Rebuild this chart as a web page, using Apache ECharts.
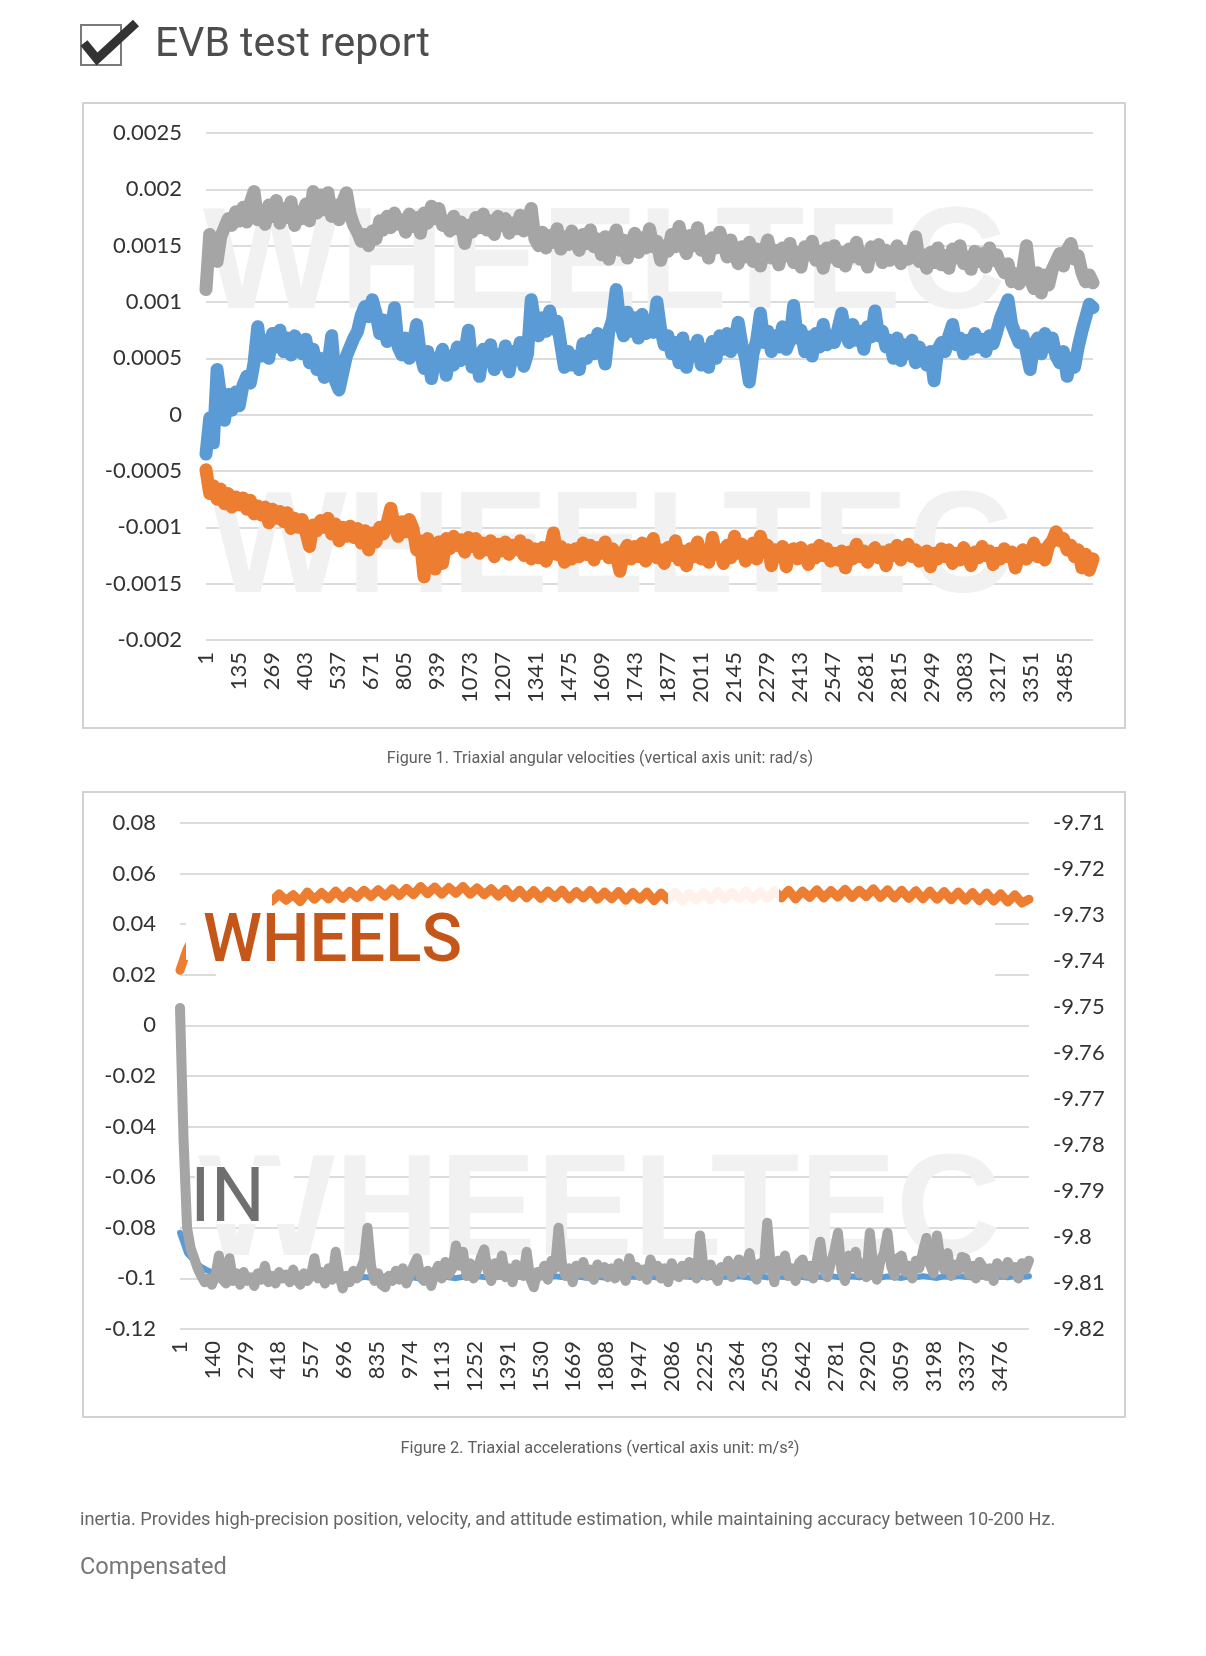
<!DOCTYPE html>
<html><head><meta charset="utf-8">
<script src="https://cdn.jsdelivr.net/npm/echarts@6/dist/echarts.min.js"></script>
<style>html,body{margin:0;padding:0;background:#fff;}#c{width:1206px;height:1656px;}</style>
</head><body><div id="c"></div>
<script>
// ---------- data ----------
const N_POINTS = 3601;            // samples per test run
const STEP_FINE = 15;             // sample spacing of the fine read-offs
const STEP_COARSE = 30;           // sample spacing of the coarse read-offs
const categories = Array.from({length: N_POINTS}, (_, i) => String(i + 1));
const fig1LabelInterval = 133;    // ticks 1,135,269,...,3485
const fig2LabelInterval = 138;    // ticks 1,140,279,...,3476

// Figure 1: angular velocity (rad/s), read every 15 samples
const gyroBlue = [
-0.00035,-0.00003,-0.00025,0.0004,0.00015,-0.00005,0.00018,0.00004,0.0002,0.00008,
0.00026,0.00034,0.00028,0.00046,0.00078,0.00052,0.00066,0.0005,0.00072,0.0006,
0.00075,0.00056,0.00068,0.00053,0.0007,0.00062,0.00054,0.00067,0.00046,0.00058,
0.0004,0.0005,0.00033,0.00044,0.0007,0.0003,0.00022,0.00037,0.00052,0.0006,
0.00068,0.00074,0.00088,0.00096,0.00087,0.00102,0.0009,0.00072,0.00084,0.00065,
0.00074,0.00095,0.0006,0.00053,0.00068,0.0005,0.00062,0.0008,0.00054,0.00041,
0.00056,0.00032,0.0005,0.00046,0.00058,0.00035,0.00052,0.00044,0.0006,0.00048,
0.00055,0.00075,0.00042,0.00054,0.00034,0.00058,0.00047,0.00062,0.0004,0.00053,
0.00045,0.00061,0.00038,0.00056,0.00049,0.00064,0.00043,0.00054,0.00102,0.00082,
0.0007,0.00086,0.00074,0.00092,0.00076,0.00083,0.00062,0.00042,0.00056,0.00044,
0.00052,0.0004,0.00063,0.0005,0.00066,0.00054,0.00072,0.00061,0.00045,0.00074,
0.00084,0.00111,0.00082,0.0007,0.00091,0.00074,0.00086,0.00068,0.00089,0.00072,
0.0008,0.00073,0.001,0.00076,0.00062,0.0007,0.00054,0.00064,0.00046,0.00068,
0.00042,0.0006,0.00052,0.00066,0.00044,0.00058,0.00042,0.00065,0.0005,0.0007,
0.00058,0.00072,0.00056,0.00064,0.00082,0.00062,0.0005,0.00029,0.00054,0.00066,
0.0009,0.00064,0.00074,0.00056,0.0007,0.0006,0.00078,0.00058,0.00066,0.00097,
0.00068,0.00075,0.00056,0.00069,0.00052,0.00072,0.0006,0.0008,0.00062,0.0007,
0.00064,0.00076,0.0009,0.00072,0.00064,0.0008,0.00066,0.00074,0.00058,0.00078,
0.00069,0.00092,0.0007,0.00074,0.0006,0.00066,0.0005,0.00068,0.00048,0.00062,
0.00054,0.00066,0.00046,0.0006,0.00052,0.00044,0.00056,0.0003,0.00058,0.00064,
0.00056,0.0007,0.0008,0.00062,0.00068,0.00054,0.00066,0.00058,0.00072,0.0006,
0.00067,0.00056,0.0007,0.00063,0.00074,0.00086,0.00094,0.00102,0.0008,0.00072,
0.00064,0.0007,0.00056,0.0004,0.00062,0.00068,0.00054,0.00072,0.0006,0.00068,
0.00052,0.00046,0.00056,0.00034,0.0005,0.00042,0.0006,0.00074,0.00086,0.00098,
0.00095];
const gyroOrange = [
-0.00049,-0.0007,-0.00063,-0.00075,-0.00066,-0.00079,-0.0007,-0.00082,-0.00073,-0.0008,
-0.00074,-0.00084,-0.00076,-0.00088,-0.00081,-0.00089,-0.00082,-0.00096,-0.00084,-0.00092,
-0.00086,-0.00095,-0.00087,-0.00101,-0.00092,-0.001,-0.00093,-0.00104,-0.00117,-0.00098,
-0.00103,-0.00094,-0.001,-0.00092,-0.00106,-0.00097,-0.00112,-0.001,-0.00108,-0.00099,
-0.00109,-0.00101,-0.00114,-0.00103,-0.0012,-0.00105,-0.00113,-0.001,-0.00106,-0.00096,
-0.00083,-0.00099,-0.00108,-0.00095,-0.00104,-0.00093,-0.00101,-0.0012,-0.00112,-0.00144,
-0.0011,-0.00122,-0.00137,-0.00113,-0.00132,-0.0011,-0.00119,-0.00108,-0.00116,-0.00111,
-0.00122,-0.00109,-0.00117,-0.0011,-0.00123,-0.00114,-0.0012,-0.00112,-0.00126,-0.00115,
-0.00121,-0.00113,-0.00124,-0.00116,-0.0012,-0.00112,-0.00125,-0.00116,-0.00128,-0.00119,
-0.00127,-0.00118,-0.0013,-0.00121,-0.00105,-0.00124,-0.00117,-0.00131,-0.0012,-0.00128,
-0.00119,-0.00126,-0.00114,-0.00124,-0.00116,-0.00129,-0.00118,-0.00123,-0.00113,-0.00127,
-0.00119,-0.00125,-0.00139,-0.00122,-0.00116,-0.00128,-0.00117,-0.00126,-0.00114,-0.0013,
-0.00122,-0.0011,-0.00127,-0.0012,-0.00132,-0.00118,-0.00125,-0.00112,-0.00129,-0.00121,
-0.00134,-0.00119,-0.00126,-0.00113,-0.00128,-0.0012,-0.00131,-0.00109,-0.00124,-0.0012,
-0.00132,-0.00116,-0.00127,-0.00108,-0.00123,-0.00115,-0.0013,-0.00122,-0.00114,-0.00128,
-0.00108,-0.00122,-0.00116,-0.00134,-0.0012,-0.00126,-0.00117,-0.00135,-0.00121,-0.00119,
-0.00128,-0.00118,-0.00124,-0.00133,-0.0012,-0.00127,-0.00116,-0.00125,-0.00119,-0.0013,
-0.00123,-0.00129,-0.00121,-0.00136,-0.00122,-0.00128,-0.00115,-0.00126,-0.00121,-0.00131,
-0.00124,-0.00118,-0.00127,-0.00122,-0.00134,-0.0012,-0.00125,-0.00116,-0.00129,-0.00123,
-0.00115,-0.00126,-0.0012,-0.0013,-0.00124,-0.00121,-0.00135,-0.00123,-0.00128,-0.00119,
-0.00126,-0.0012,-0.00132,-0.00123,-0.00129,-0.00118,-0.00125,-0.00134,-0.00122,-0.00127,
-0.00117,-0.00125,-0.00121,-0.00133,-0.00123,-0.00128,-0.00119,-0.00126,-0.00122,-0.00136,
-0.00125,-0.0012,-0.00128,-0.00123,-0.00114,-0.00126,-0.0012,-0.00129,-0.00116,-0.00112,
-0.00104,-0.00112,-0.0011,-0.0012,-0.00116,-0.00126,-0.0012,-0.00136,-0.00124,-0.00138,
-0.00128];
const gyroGray = [
0.00111,0.0016,0.00152,0.00136,0.00158,0.00166,0.00174,0.00168,0.0018,0.00172,
0.00184,0.00171,0.00188,0.00198,0.00173,0.00181,0.00169,0.00186,0.00176,0.0019,
0.0017,0.00183,0.00175,0.00189,0.00168,0.0018,0.00174,0.00187,0.00172,0.00198,
0.00179,0.00195,0.00182,0.00197,0.00176,0.00186,0.00173,0.00189,0.00197,0.00178,
0.00168,0.00162,0.00154,0.0016,0.0015,0.00163,0.00156,0.00172,0.00164,0.00176,
0.00166,0.00179,0.00169,0.00173,0.00162,0.00178,0.00167,0.00175,0.00161,0.00179,
0.0017,0.00185,0.00174,0.00183,0.00168,0.00172,0.00163,0.00176,0.00165,0.00171,
0.00152,0.00168,0.00162,0.00175,0.00166,0.00178,0.00164,0.00172,0.0016,0.00176,
0.00168,0.00174,0.00161,0.0017,0.00165,0.00177,0.00163,0.00171,0.00183,0.00156,
0.0015,0.00162,0.00148,0.00159,0.00153,0.00165,0.00147,0.00158,0.00151,0.00163,
0.00154,0.00146,0.0016,0.00152,0.00164,0.00149,0.00156,0.00142,0.00158,0.00138,
0.00153,0.00164,0.00146,0.00155,0.00139,0.00152,0.00161,0.00144,0.00157,0.00148,
0.00165,0.00149,0.00154,0.00137,0.0015,0.00145,0.0016,0.00149,0.00167,0.00152,
0.00143,0.00159,0.0015,0.00166,0.00146,0.00154,0.00139,0.00157,0.00148,0.00162,
0.00151,0.0014,0.00155,0.00143,0.00134,0.00149,0.0014,0.00153,0.00136,0.00147,
0.00132,0.00145,0.00155,0.00139,0.00146,0.00133,0.00148,0.00141,0.00152,0.00135,
0.00144,0.00131,0.00149,0.00142,0.00154,0.00137,0.00145,0.0013,0.00148,0.0014,
0.0015,0.00136,0.00144,0.00132,0.00147,0.0014,0.00153,0.00138,0.00143,0.00131,
0.00149,0.00142,0.00151,0.00135,0.00146,0.00137,0.00142,0.0015,0.00134,0.00145,
0.00138,0.00146,0.00158,0.00136,0.00142,0.0013,0.00144,0.00135,0.00148,0.00133,
0.00141,0.0013,0.00147,0.00139,0.0015,0.00134,0.0014,0.00129,0.00145,0.00136,
0.00143,0.00131,0.00148,0.00137,0.00142,0.00132,0.00126,0.00134,0.00118,0.00125,
0.00116,0.00128,0.0015,0.0012,0.00112,0.00126,0.00108,0.00124,0.00115,0.00129,
0.00136,0.00143,0.00132,0.00146,0.00152,0.00138,0.00141,0.00126,0.00118,0.00124,
0.00117];

// Figure 2: acceleration (m/s^2)
const accBlue = [   // left axis, every 30 samples
-0.082,-0.09,-0.093,-0.0955,-0.097,-0.098,-0.0985,-0.0993,-0.0998,-0.0994,
-0.1,-0.0996,-0.1002,-0.0995,-0.0999,-0.1003,-0.0996,-0.1,-0.0994,-0.0998,
-0.1001,-0.0995,-0.0999,-0.0993,-0.0997,-0.1002,-0.0994,-0.0998,-0.1,-0.0992,
-0.0996,-0.0999,-0.0993,-0.0997,-0.1001,-0.0995,-0.0998,-0.0992,-0.0996,-0.0999,
-0.0994,-0.0997,-0.0991,-0.0995,-0.0998,-0.0993,-0.0996,-0.0999,-0.0992,-0.0995,
-0.0998,-0.0993,-0.0996,-0.0991,-0.0995,-0.0998,-0.0992,-0.0996,-0.0999,-0.0994,
-0.0997,-0.0992,-0.0995,-0.0998,-0.0993,-0.0996,-0.0991,-0.0995,-0.0998,-0.0993,
-0.0996,-0.099,-0.0994,-0.0997,-0.0992,-0.0995,-0.0998,-0.0993,-0.0996,-0.0991,
-0.0995,-0.0998,-0.0992,-0.0996,-0.099,-0.0994,-0.0997,-0.0992,-0.0995,-0.0998,
-0.0993,-0.0996,-0.0991,-0.0995,-0.0998,-0.0992,-0.0996,-0.099,-0.0994,-0.0997,
-0.0992,-0.0995,-0.0998,-0.0993,-0.0996,-0.0991,-0.0995,-0.0998,-0.0992,-0.0996,
-0.099,-0.0994,-0.0997,-0.0992,-0.0995,-0.0998,-0.0993,-0.0996,-0.0991,-0.0994,
-0.0992];
const accOrange = [ // right axis, every 30 samples
-9.742,-9.7375,-9.7345,-9.732,-9.7302,-9.7292,-9.7276,-9.7286,-9.7266,-9.7278,
-9.7258,-9.7272,-9.7255,-9.727,-9.7254,-9.7268,-9.7256,-9.7271,-9.725,-9.7266,
-9.7251,-9.7265,-9.7248,-9.7264,-9.7249,-9.7262,-9.7246,-9.726,-9.7245,-9.7259,
-9.7243,-9.7258,-9.7242,-9.7256,-9.7238,-9.7254,-9.7239,-9.7255,-9.724,-9.7253,
-9.7238,-9.7255,-9.7241,-9.7256,-9.7243,-9.7259,-9.7244,-9.7262,-9.7246,-9.7263,
-9.7247,-9.7264,-9.7248,-9.7262,-9.7246,-9.7265,-9.7249,-9.7263,-9.7247,-9.7266,
-9.725,-9.7265,-9.7249,-9.7268,-9.7251,-9.7266,-9.725,-9.7269,-9.7252,-9.7267,
-9.725,-9.727,-9.7253,-9.7268,-9.7251,-9.7267,-9.7249,-9.7266,-9.725,-9.7265,
-9.7248,-9.7266,-9.7249,-9.7264,-9.7247,-9.7263,-9.7246,-9.7265,-9.7248,-9.7262,
-9.7245,-9.7263,-9.7247,-9.7261,-9.7244,-9.7262,-9.7246,-9.726,-9.7243,-9.7262,
-9.7245,-9.7263,-9.7246,-9.7264,-9.7247,-9.7265,-9.7248,-9.7266,-9.7249,-9.7267,
-9.725,-9.7268,-9.7251,-9.7269,-9.7252,-9.727,-9.7254,-9.7272,-9.7256,-9.7274,
-9.7266];
const accGray = [   // left axis, every 15 samples
0.0069,-0.045,-0.08,-0.088,-0.092,-0.096,-0.099,-0.1015,-0.1,-0.1025,
-0.099,-0.091,-0.1005,-0.102,-0.092,-0.101,-0.098,-0.1025,-0.0975,-0.101,
-0.0995,-0.103,-0.098,-0.1005,-0.095,-0.1015,-0.099,-0.102,-0.0975,-0.1,
-0.0985,-0.1015,-0.0965,-0.1005,-0.1025,-0.098,-0.101,-0.099,-0.092,-0.1,
-0.0975,-0.102,-0.096,-0.1005,-0.0895,-0.0985,-0.104,-0.099,-0.1015,-0.097,
-0.1,-0.0965,-0.093,-0.08,-0.095,-0.101,-0.098,-0.1025,-0.1035,-0.099,
-0.101,-0.097,-0.1005,-0.096,-0.102,-0.0985,-0.095,-0.092,-0.0995,-0.101,
-0.097,-0.103,-0.098,-0.095,-0.1,-0.0935,-0.0985,-0.096,-0.087,-0.095,
-0.0895,-0.099,-0.094,-0.1,-0.0965,-0.092,-0.0885,-0.097,-0.101,-0.094,
-0.0985,-0.091,-0.0995,-0.096,-0.1015,-0.0945,-0.097,-0.099,-0.0895,-0.1,
-0.1035,-0.0975,-0.099,-0.095,-0.1005,-0.093,-0.096,-0.08,-0.0945,-0.099,
-0.096,-0.1015,-0.095,-0.098,-0.0935,-0.099,-0.0965,-0.1005,-0.0945,-0.098,
-0.0955,-0.0995,-0.096,-0.1,-0.094,-0.0975,-0.101,-0.092,-0.097,-0.0955,
-0.099,-0.0965,-0.1005,-0.0925,-0.097,-0.095,-0.1,-0.096,-0.1015,-0.094,
-0.0975,-0.0995,-0.095,-0.0985,-0.0935,-0.097,-0.1,-0.083,-0.096,-0.099,
-0.0945,-0.098,-0.101,-0.0955,-0.097,-0.093,-0.0995,-0.096,-0.0925,-0.098,
-0.095,-0.09,-0.0975,-0.1005,-0.094,-0.0965,-0.078,-0.0955,-0.1015,-0.093,
-0.097,-0.091,-0.099,-0.096,-0.101,-0.094,-0.0925,-0.0985,-0.095,-0.1,
-0.093,-0.0855,-0.0965,-0.0995,-0.094,-0.089,-0.082,-0.097,-0.101,-0.091,
-0.0955,-0.0895,-0.098,-0.094,-0.0995,-0.082,-0.096,-0.1005,-0.093,-0.09,
-0.082,-0.095,-0.099,-0.092,-0.091,-0.0975,-0.095,-0.1,-0.093,-0.096,
-0.0895,-0.084,-0.0945,-0.098,-0.083,-0.093,-0.0965,-0.09,-0.099,-0.0945,
-0.097,-0.0915,-0.092,-0.0985,-0.095,-0.1,-0.0935,-0.0955,-0.099,-0.096,
-0.101,-0.094,-0.096,-0.0985,-0.0935,-0.097,-0.0955,-0.1,-0.094,-0.0965,
-0.093];

// ---------- chart ----------
const BLUE = '#5b9bd5', ORANGE = '#ed7d31', GRAY = '#a5a5a5';
const pairs = (vals, step) => vals.map((v, i) => [i * step, v]);
const fmt = d => v => String(parseFloat(v.toFixed(d)));
const axisFont = {fontFamily: 'Lato', fontSize: 22, color: '#333333'};
const gridLine = {show: true, lineStyle: {color: '#dcdcdc', width: 2}};

function xAxis(grid, interval) {
  return {type: 'category', gridIndex: grid, data: categories, boundaryGap: false,
    axisLine: {show: false}, axisTick: {show: false}, splitLine: {show: false},
    axisLabel: Object.assign({interval: interval, rotate: 90, margin: 12}, axisFont)};
}
function line(x, y, data, color, width) {
  return {type: 'line', xAxisIndex: x, yAxisIndex: y, data: data, symbol: 'none',
    showSymbol: false, silent: true,
    lineStyle: {color: color, width: width, join: 'round', cap: 'round'}, z: 3};
}
function txt(x, y, text, font, fill, align, z) {
  return {type: 'text', x: x, y: y, z: z || 5, silent: true,
    style: {text: text, font: font, fill: fill, textAlign: align || 'left', textVerticalAlign: 'middle'}};
}
function rect(x, y, w, h, fill, z) {
  return {type: 'rect', z: z || 50, silent: true, shape: {x: x, y: y, width: w, height: h},
    style: {fill: fill}};
}
const WM = 'bold 145px "Liberation Sans"';

const option = {
  animation: false,
  backgroundColor: '#ffffff',
  grid: [
    {left: 206, top: 133, width: 887, height: 507},
    {left: 180, top: 823, width: 849, height: 506}
  ],
  xAxis: [xAxis(0, fig1LabelInterval), xAxis(1, fig2LabelInterval)],
  yAxis: [
    {type: 'value', gridIndex: 0, min: -0.002, max: 0.0025, interval: 0.0005,
      axisLine: {show: false}, axisTick: {show: false}, splitLine: gridLine,
      axisLabel: Object.assign({margin: 24, formatter: fmt(4)}, axisFont)},
    {type: 'value', gridIndex: 1, min: -0.12, max: 0.08, interval: 0.02,
      axisLine: {show: false}, axisTick: {show: false}, splitLine: gridLine,
      axisLabel: Object.assign({margin: 24, formatter: fmt(2)}, axisFont)},
    {type: 'value', gridIndex: 1, position: 'right', min: -9.82, max: -9.71, interval: 0.01,
      axisLine: {show: false}, axisTick: {show: false}, splitLine: {show: false},
      axisLabel: Object.assign({margin: 24, formatter: fmt(2)}, axisFont)}
  ],
  series: [
    line(0, 0, pairs(gyroBlue, STEP_FINE), BLUE, 13),
    line(0, 0, pairs(gyroOrange, STEP_FINE), ORANGE, 13),
    line(0, 0, pairs(gyroGray, STEP_FINE), GRAY, 13),
    line(1, 1, pairs(accBlue, STEP_COARSE), BLUE, 6),
    line(1, 2, pairs(accOrange, STEP_COARSE), ORANGE, 9),
    line(1, 1, pairs(accGray, STEP_FINE), GRAY, 10)
  ],
  graphic: {elements: [
    // header
    {type: 'rect', z: 5, silent: true, shape: {x: 81, y: 25, width: 40, height: 40},
      style: {fill: 'none', stroke: '#7a7a7a', lineWidth: 2}},
    {type: 'polyline', z: 6, silent: true, shape: {points: [[84, 43], [97, 59], [136, 23]]},
      style: {fill: 'none', stroke: '#333333', lineWidth: 9, lineJoin: 'miter'}},
    txt(155, 46, 'EVB test report', '41px Roboto', '#4d4d4d'),
    // chart frames
    {type: 'rect', z: 1, silent: true, shape: {x: 83, y: 103, width: 1042, height: 625},
      style: {fill: 'none', stroke: '#d2d2d2', lineWidth: 2}},
    {type: 'rect', z: 1, silent: true, shape: {x: 83, y: 792, width: 1042, height: 625},
      style: {fill: 'none', stroke: '#d2d2d2', lineWidth: 2}},
    // watermarks
    txt(203, 268, 'WHEELTEC', WM, '#f1f1f1', 'left', 1),
    txt(210, 552, 'WHEELTEC', WM, '#f1f1f1', 'left', 1),
    txt(198, 1215, 'WHEELTEC', WM, '#f1f1f1', 'left', 1),
    // overlays on figure 2
    rect(186, 910, 809, 50, '#ffffff'),
    rect(216, 960, 779, 30, '#ffffff'),
    rect(186, 878, 86, 34, '#ffffff'),
    rect(668, 883, 111, 27, 'rgba(255,255,255,0.9)'),
    rect(195, 1166, 99, 58, '#ffffff'),
    txt(203, 944, 'WHEELS', '500 67px Roboto', '#c4561a', 'left', 60),
    txt(190, 1202, 'IN', '76px Roboto', '#6f6f6f', 'left', 60),
    // captions and text
    txt(600, 759, 'Figure 1. Triaxial angular velocities (vertical axis unit: rad/s)', '16.2px Roboto', '#5f5f5f', 'center'),
    txt(600, 1449, 'Figure 2. Triaxial accelerations (vertical axis unit: m/s\u00b2)', '16.4px Roboto', '#5f5f5f', 'center'),
    txt(80, 1520, 'inertia. Provides high-precision position, velocity, and attitude estimation, while maintaining accuracy between 10-200 Hz.', '18.2px Roboto', '#666666'),
    txt(80, 1568, 'Compensated', '23.6px Roboto', '#777777')
  ]}
};
const chart = echarts.init(document.getElementById('c'), null, {renderer: 'canvas', width: 1206, height: 1656});
chart.setOption(option);
</script></body></html>
